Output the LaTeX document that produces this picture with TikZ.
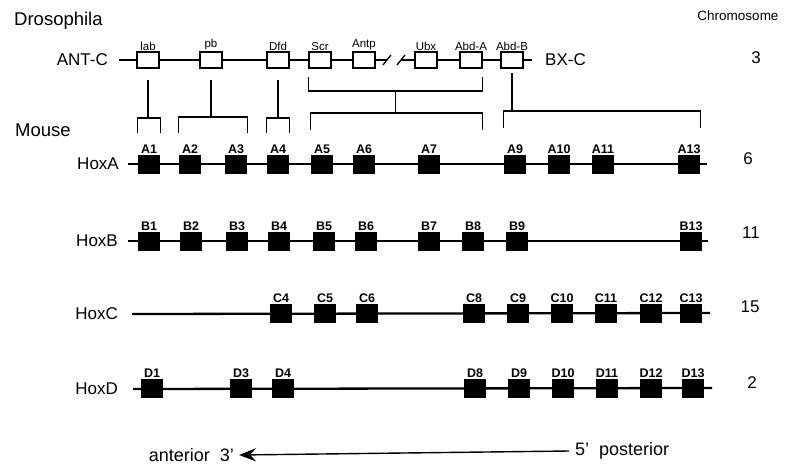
\documentclass[tikz,border=0pt]{standalone}
\usepackage{fontspec}
\setmainfont{Liberation Sans}
\usetikzlibrary{arrows.meta,calc}

\begin{document}
\begin{tikzpicture}[x=1pt,y=-1pt,
                    >={Stealth[length=17pt,width=13pt,inset=6pt]},
                    chrom/.style={line width=2.3pt},
                    homol/.style={line width=1.5pt},
                    bracket/.style={line width=1.3pt},
                    flybox/.style={draw,line width=1.1pt,fill=white,
                                   minimum width=22pt,minimum height=16pt,inner sep=0pt},
                    hoxbox/.style={fill=black,minimum width=22pt,minimum height=19pt,inner sep=0pt},
                    flyname/.style={font=\fontsize{11.5}{12}\selectfont,inner sep=1pt},
                    hoxname/.style={font=\bfseries\fontsize{12.5}{13}\selectfont,inner sep=0.5pt},
                    rowname/.style={font=\fontsize{17}{19}\selectfont,anchor=east,inner sep=0pt},
                    heading/.style={font=\fontsize{18.5}{20}\selectfont,anchor=west,inner sep=0pt},
                    chrnum/.style={font=\fontsize{17}{19}\selectfont,inner sep=0pt},
                    axislbl/.style={font=\fontsize{18}{20}\selectfont,inner sep=0pt}]
  \useasboundingbox (0,0) rectangle (804,472);

  % headings and chromosome numbers
  \node[heading] (drosophila) at (14,21) {Drosophila};
  \node[heading] (mouse) at (15,130) {Mouse};
  \node[font=\fontsize{13.5}{15}\selectfont,inner sep=0pt] (chromosome) at (738,16) {Chromosome};
  \node[chrnum] (chr3) at (756,58) {3};
  \node[chrnum] (chr6) at (748,159) {6};
  \node[chrnum] (chr11) at (751,233) {11};
  \node[chrnum] (chr15) at (750,307) {15};
  \node[chrnum] (chr2) at (752,383) {2};

  % Drosophila HOM-C, split between ANT-C and BX-C
  \node[rowname] (antc) at (108,60) {ANT-C};
  \node[rowname,anchor=west] (bxc) at (545,60) {BX-C};
  \coordinate (brkL) at (387,60);
  \coordinate (brkR) at (401,60);
  \draw[chrom] ([xshift=11pt]antc.east) -- (brkL);
  \draw[chrom] (brkR) -- ([xshift=-13pt]bxc.west);
  \draw[bracket] ($(brkL)+(-4,5)$) -- ($(brkL)+(4,-5)$);
  \draw[bracket] ($(brkR)+(-4,5)$) -- ($(brkR)+(4,-5)$);
  \node[flybox,label={[flyname]above:lab}] (lab) at (148,60) {};
  \node[flybox,label={[flyname]above:pb}] (pb) at (211,60) {};
  \node[flybox,label={[flyname]above:Dfd}] (dfd) at (278,60) {};
  \node[flybox,label={[flyname]above:Scr}] (scr) at (320,60) {};
  \node[flybox,label={[flyname]above:Antp}] (antp) at (364,60) {};
  \node[flybox,label={[flyname]above:Ubx}] (ubx) at (426,60) {};
  \node[flybox,label={[flyname]above:Abd-A}] (abdA) at (471,60) {};
  \node[flybox,label={[flyname]above:Abd-B}] (abdB) at (512,60) {};

  % mouse clusters
  \node[rowname] (hoxA) at (119,164) {HoxA};
  \node[rowname] (hoxB) at (118,241) {HoxB};
  \node[rowname] (hoxC) at (118,314) {HoxC};
  \node[rowname] (hoxD) at (118,389) {HoxD};
  \coordinate (endA) at (707,164);
  \coordinate (endB) at (708,241);
  \coordinate (endC) at (710,313);
  \coordinate (endD) at (712,388);
  \draw[chrom] ([xshift=9pt]hoxA.east) -- (endA);
  \draw[chrom] ([xshift=10pt]hoxB.east) -- (endB);
  \draw[chrom] ([xshift=14pt]hoxC.east) -- (endC);
  \draw[chrom] ([xshift=15pt]hoxD.east) -- (endD);

  \node[hoxbox,label={[hoxname]above:A1}] (A1) at (149,164) {};
  \node[hoxbox,label={[hoxname]above:A2}] (A2) at (190,164) {};
  \node[hoxbox,label={[hoxname]above:A3}] (A3) at (236,164) {};
  \node[hoxbox,label={[hoxname]above:A4}] (A4) at (278,164) {};
  \node[hoxbox,label={[hoxname]above:A5}] (A5) at (322,164) {};
  \node[hoxbox,label={[hoxname]above:A6}] (A6) at (364,164) {};
  \node[hoxbox,label={[hoxname]above:A7}] (A7) at (429,164) {};
  \node[hoxbox,label={[hoxname]above:A9}] (A9) at (515,164) {};
  \node[hoxbox,label={[hoxname]above:A10}] (A10) at (559,164) {};
  \node[hoxbox,label={[hoxname]above:A11}] (A11) at (603,164) {};
  \node[hoxbox,label={[hoxname]above:A13}] (A13) at (689,164) {};

  \node[hoxbox,label={[hoxname]above:B1}] (B1) at (149,241) {};
  \node[hoxbox,label={[hoxname]above:B2}] (B2) at (191,241) {};
  \node[hoxbox,label={[hoxname]above:B3}] (B3) at (237,241) {};
  \node[hoxbox,label={[hoxname]above:B4}] (B4) at (279,241) {};
  \node[hoxbox,label={[hoxname]above:B5}] (B5) at (324,241) {};
  \node[hoxbox,label={[hoxname]above:B6}] (B6) at (366,241) {};
  \node[hoxbox,label={[hoxname]above:B7}] (B7) at (429,241) {};
  \node[hoxbox,label={[hoxname]above:B8}] (B8) at (473,241) {};
  \node[hoxbox,label={[hoxname]above:B9}] (B9) at (517,241) {};
  \node[hoxbox,label={[hoxname]above:B13}] (B13) at (691,241) {};

  \node[hoxbox,label={[hoxname]above:C4}] (C4) at (281,313) {};
  \node[hoxbox,label={[hoxname]above:C5}] (C5) at (325,313) {};
  \node[hoxbox,label={[hoxname]above:C6}] (C6) at (367,313) {};
  \node[hoxbox,label={[hoxname]above:C8}] (C8) at (474,313) {};
  \node[hoxbox,label={[hoxname]above:C9}] (C9) at (518,313) {};
  \node[hoxbox,label={[hoxname]above:C10}] (C10) at (562,313) {};
  \node[hoxbox,label={[hoxname]above:C11}] (C11) at (606,313) {};
  \node[hoxbox,label={[hoxname]above:C12}] (C12) at (651,313) {};
  \node[hoxbox,label={[hoxname]above:C13}] (C13) at (691,313) {};

  \node[hoxbox,label={[hoxname]above:D1}] (D1) at (152,388) {};
  \node[hoxbox,label={[hoxname]above:D3}] (D3) at (241,388) {};
  \node[hoxbox,label={[hoxname]above:D4}] (D4) at (283,388) {};
  \node[hoxbox,label={[hoxname]above:D8}] (D8) at (475,388) {};
  \node[hoxbox,label={[hoxname]above:D9}] (D9) at (519,388) {};
  \node[hoxbox,label={[hoxname]above:D10}] (D10) at (563,388) {};
  \node[hoxbox,label={[hoxname]above:D11}] (D11) at (607,388) {};
  \node[hoxbox,label={[hoxname]above:D12}] (D12) at (651,388) {};
  \node[hoxbox,label={[hoxname]above:D13}] (D13) at (693,388) {};

  % homology brackets, fly gene -> mouse paralogue group
  \draw[homol] (lab |- 0,80) -- (lab |- 0,118);
  \draw[bracket] (A1.west |- 0,133) -- (A1.west |- 0,118) -- (A1.east |- 0,118) -- (A1.east |- 0,133);
  \draw[homol] (pb |- 0,80) -- (pb |- 0,117);
  \draw[bracket] (A2.west |- 0,133) -- (A2.west |- 0,117) -- (A3.east |- 0,117) -- (A3.east |- 0,133);
  \draw[homol] (dfd |- 0,80) -- (dfd |- 0,118);
  \draw[bracket] (A4.west |- 0,133) -- (A4.west |- 0,118) -- (A4.east |- 0,118) -- (A4.east |- 0,133);
  \coordinate (mid) at ($(scr.west)!.5!(abdA.east)$);
  \draw[bracket] (scr.west |- 0,77) -- (scr.west |- 0,91) -- (abdA.east |- 0,91) -- (abdA.east |- 0,77);
  \draw[homol] (mid |- 0,91) -- (mid |- 0,113);
  \draw[bracket] (A5.west |- 0,130) -- (A5.west |- 0,113) -- (abdA.east |- 0,113) -- (abdA.east |- 0,130);
  \draw[homol] (abdB |- 0,73) -- (abdB |- 0,111);
  \draw[bracket] (A9.west |- 0,128) -- (A9.west |- 0,111) -- (A13.east |- 0,111) -- (A13.east |- 0,128);

  % body axis
  \node[axislbl,anchor=east] (anterior) at (234,455) {anterior\ \ 3'};
  \node[axislbl,anchor=west] (posterior) at (575,451) {5'\ \ posterior};
  \draw[->,line width=1.4pt] ([xshift=-6pt]posterior.west) -- ([xshift=5pt]anterior.east);
\end{tikzpicture}
\end{document}
